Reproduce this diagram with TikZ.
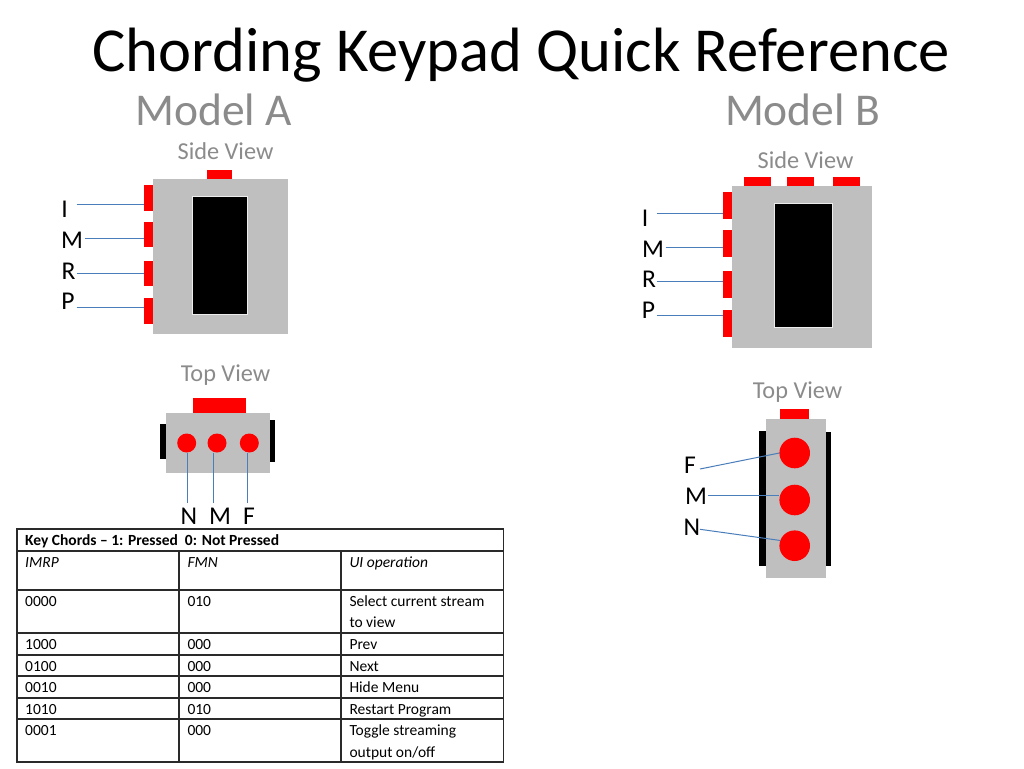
\documentclass[tikz,border=0pt]{standalone}
\usepackage{fontspec}
\setmainfont{Carlito}
\newcommand{\fs}[1]{\fontsize{#1}{#1}\selectfont}
\newcommand{\boxat}[6]{%
  \pgfmathsetmacro{\bw}{#5-#3}\pgfmathsetmacro{\bh}{#6-#4}%
  \pgfmathsetmacro{\bx}{(#3+#5)/2}\pgfmathsetmacro{\by}{(#4+#6)/2}%
  \node[#2,minimum width=\bw pt,minimum height=\bh pt] (#1) at (\bx,\by) {};}
\tikzset{
  x=1pt,y=-1pt,
  plain/.style={inner sep=0pt,outer sep=0pt,rectangle},
  body/.style={plain,fill=bodygrey},
  screen/.style={plain,fill=black,draw=white!70!bodygrey,line width=0.4pt},
  rail/.style={plain,fill=black},
  key/.style={plain,fill=keyred},
  dot/.style={circle,fill=keyred,inner sep=0pt,outer sep=0pt,minimum size=#1},
  lead/.style={draw=leadblue,line width=1pt},
  title/.style={anchor=base,inner sep=0pt,font=\fs{62.6}},
  model/.style={anchor=base,inner sep=0pt,text=labelgrey,font=\fs{45.5}},
  view/.style={anchor=base,inner sep=0pt,text=labelgrey,font=\fs{24.3}},
  finger/.style={anchor=base,inner sep=0pt,font=\fs{25.6}},
  cell/.style={anchor=base west,inner sep=0pt,font=\fs{15.5}},
  grid/.style={draw=gridline,line width=1.7pt},
}
\definecolor{bodygrey}{HTML}{BFBFBF}
\definecolor{keyred}{HTML}{FF0000}
\definecolor{leadblue}{HTML}{4A7EBB}
\definecolor{labelgrey}{HTML}{8B8B8B}
\definecolor{gridline}{HTML}{2A2A2A}
\begin{document}
\begin{tikzpicture}
\useasboundingbox[fill=white] (0,0) rectangle (1024,768);
\node[title] (ttl) at (521,71.5) {Chording Keypad Quick Reference};
\node[model] (mA) at (213.5,125) {Model A};
\node[model] (mB) at (802.5,125) {Model B};
% Model A side view
\node[view] (svA) at (225.5,159) {Side View};
\boxat{bodyA}{body}{153}{179.3}{287.7}{334}
\boxat{scrA}{screen}{191.7}{196}{247.2}{314}
\boxat{topA}{key}{206.7}{170}{232.3}{179.3}
\boxat{kAI}{key}{144}{185.3}{153}{211}
\boxat{kAM}{key}{144}{221.7}{153}{247.3}
\boxat{kAR}{key}{144}{260.7}{153}{286.3}
\boxat{kAP}{key}{144}{298.3}{153}{324}
\node[finger] (lAI) at (64.5,217) {I};
\node[finger] (lAM) at (72,248) {M};
\node[finger] (lAR) at (68.5,279) {R};
\node[finger] (lAP) at (68,309.5) {P};
\coordinate (cAI) at (76.7,204.5);
\coordinate (cAM) at (85.3,238.5);
\coordinate (cAR) at (76.7,273.5);
\coordinate (cAP) at (76.7,307.5);
\draw[lead] (cAI) -- (cAI -| kAI.west);
\draw[lead] (cAM) -- (cAM -| kAM.west);
\draw[lead] (cAR) -- (cAR -| kAR.west);
\draw[lead] (cAP) -- (cAP -| kAP.west);
% Model A top view
\node[view] (tvA) at (225.5,381) {Top View};
\boxat{tbodyA}{body}{166}{412.7}{269.5}{472.7}
\boxat{tkeyA}{key}{193.3}{397.7}{246}{412.7}
\boxat{railAL}{rail}{160.3}{423.7}{166}{459}
\boxat{railAR}{rail}{269.5}{420.3}{275}{461.7}
\node[dot=19pt] (dN) at (186.7,443) {};
\node[dot=19pt] (dM) at (217,443) {};
\node[dot=19pt] (dF) at (249.3,443) {};
\coordinate (cN) at (187.5,503);
\coordinate (cM) at (213.5,503);
\coordinate (cF) at (247.5,503);
\draw[lead] (cN) -- (cN |- dN.south);
\draw[lead] (cM) -- (cM |- dM.south);
\draw[lead] (cF) -- (cF |- dF.south);
\node[finger] (lN) at (189,524) {N};
\node[finger] (lM) at (220,524) {M};
\node[finger] (lF) at (249,524) {F};
% Model B side view
\node[view] (svB) at (805.5,168) {Side View};
\boxat{bodyB}{body}{732.3}{185.7}{872.3}{347.7}
\boxat{scrB}{screen}{774.4}{203.3}{831.8}{327.3}
\boxat{topB1}{key}{744}{177}{770.7}{186}
\boxat{topB2}{key}{787.3}{177}{814.3}{186}
\boxat{topB3}{key}{833.3}{177}{860}{186}
\boxat{kBI}{key}{723}{192}{732.3}{219}
\boxat{kBM}{key}{723}{230}{732.3}{257}
\boxat{kBR}{key}{723}{270.7}{732.3}{297.7}
\boxat{kBP}{key}{723}{310}{732.3}{337}
\node[finger] (lBI) at (645,226) {I};
\node[finger] (lBM) at (653,257) {M};
\node[finger] (lBR) at (649,287.5) {R};
\node[finger] (lBP) at (648.5,318.5) {P};
\coordinate (cBI) at (657,213.5);
\coordinate (cBM) at (665.7,247.5);
\coordinate (cBR) at (657,281.5);
\coordinate (cBP) at (657,315.5);
\draw[lead] (cBI) -- (cBI -| kBI.west);
\draw[lead] (cBM) -- (cBM -| kBM.west);
\draw[lead] (cBR) -- (cBR -| kBR.west);
\draw[lead] (cBP) -- (cBP -| kBP.west);
% Model B top view
\node[view] (tvB) at (797.5,398) {Top View};
\boxat{tbodyB}{body}{766.3}{419}{825.7}{577.7}
\boxat{tkeyB}{key}{779.7}{409.3}{808.7}{419}
\boxat{railBL}{rail}{759.3}{431}{766.3}{565.7}
\boxat{railBR}{rail}{825.7}{432}{831}{565.7}
\node[dot=30.6pt] (eF) at (794.7,453) {};
\node[dot=30.6pt] (eM) at (794.7,500) {};
\node[dot=30.6pt] (eN) at (794.7,545.7) {};
\coordinate (cBF) at (700,469);
\coordinate (cBMt) at (708.3,495.5);
\coordinate (cBN) at (700,529.3);
\draw[lead] (cBF) -- (eF.west);
\draw[lead] (cBMt) -- (cBMt -| eM.west);
\draw[lead] (cBN) -- (eN.160);
\node[finger] (lBF) at (690,473.5) {F};
\node[finger] (lBMt) at (696,504.5) {M};
\node[finger] (lBN) at (692,535.5) {N};
% Table
\draw[grid] (17,529) rectangle (503.5,762);
\foreach \yy in {551,590,633,655,676,698,719}
  \draw[grid] (17,\yy) -- (503.5,\yy);
\draw[grid] (179,551) -- (179,762);
\draw[grid] (341,551) -- (341,762);
\node[cell,font=\fs{15.5}\bfseries] (tH) at (25,545) {Key Chords – 1: Pressed~~0: Not Pressed};
\node[cell,font=\fs{15.5}\itshape] (h1) at (25,567) {IMRP};
\node[cell,font=\fs{15.5}\itshape] (h2) at (187.3,567) {FMN};
\node[cell,font=\fs{15.5}\itshape] (h3) at (349.3,567) {UI operation};
\node[cell] (a1) at (25,606) {0000};
\node[cell] (b1) at (187.3,606) {010};
\node[cell] (c1) at (349.3,606) {Select current stream};
\node[cell] (c1b) at (349.3,627.5) {to view};
\node[cell] (a2) at (25,649) {1000};
\node[cell] (b2) at (187.3,649) {000};
\node[cell] (c2) at (349.3,649) {Prev};
\node[cell] (a3) at (25,671) {0100};
\node[cell] (b3) at (187.3,671) {000};
\node[cell] (c3) at (349.3,671) {Next};
\node[cell] (a4) at (25,692) {0010};
\node[cell] (b4) at (187.3,692) {000};
\node[cell] (c4) at (349.3,692) {Hide Menu};
\node[cell] (a5) at (25,714) {1010};
\node[cell] (b5) at (187.3,714) {010};
\node[cell] (c5) at (349.3,714) {Restart Program};
\node[cell] (a6) at (25,735.5) {0001};
\node[cell] (b6) at (187.3,735.5) {000};
\node[cell] (c6) at (349.3,735.5) {Toggle streaming};
\node[cell] (c6b) at (349.3,757) {output on/off};
\end{tikzpicture}
\end{document}
